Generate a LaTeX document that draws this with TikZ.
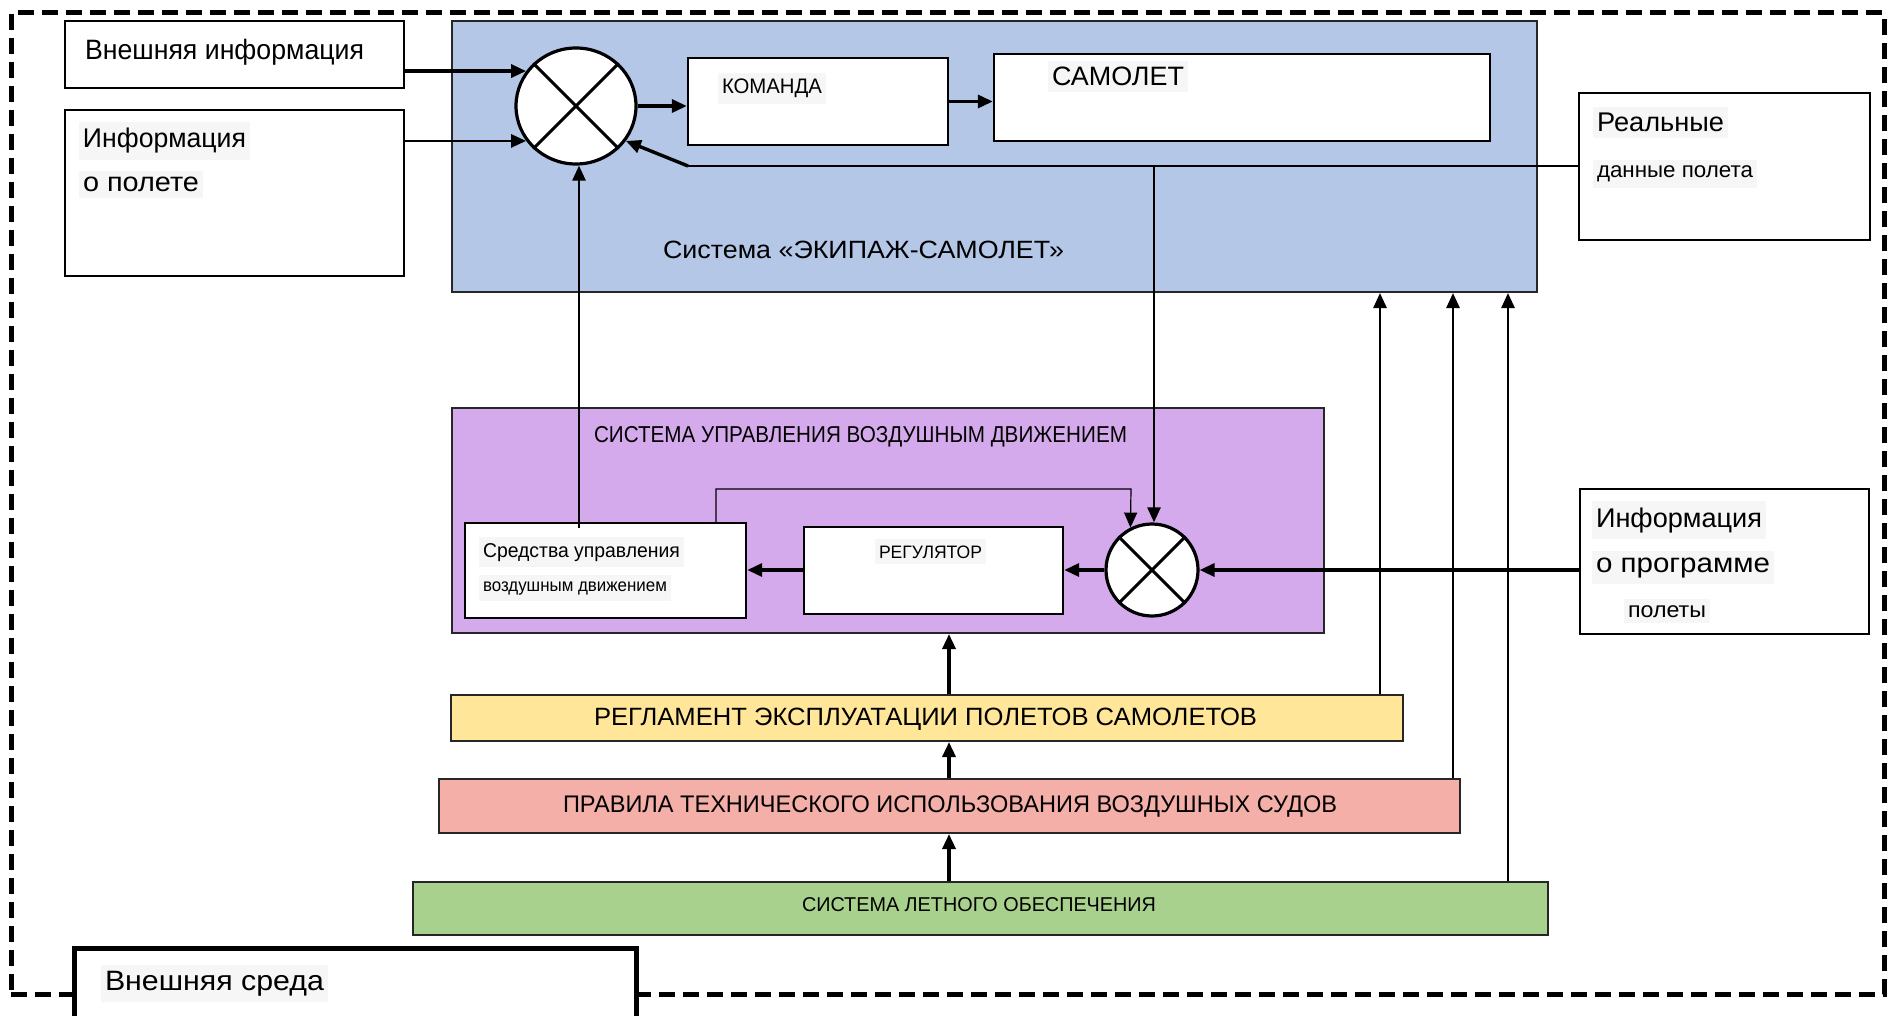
\documentclass[tikz,border=0pt]{standalone}
\usepackage{fontspec}
\setmainfont{Liberation Sans}
\usepackage{graphicx}
\usetikzlibrary{arrows.meta,shapes.geometric,fit}
\newdimen\pxu \pxu=0.5pt
\newcommand\tx[3]{\resizebox{#1\pxu}{\height}{\fontsize{#2pt}{#2pt}\selectfont #3}}
\definecolor{sysblue}{RGB}{180,199,231}
\definecolor{sysviolet}{RGB}{213,170,236}
\definecolor{regyellow}{RGB}{255,230,153}
\definecolor{rulered}{RGB}{244,176,168}
\definecolor{supgreen}{RGB}{169,209,142}
\definecolor{patch}{RGB}{246,246,246}
\begin{document}
\begin{tikzpicture}[x=0.5pt,y=-0.5pt,
  wbox/.style={draw=black, line width=1.2pt, inner sep=0pt, fill=white},
  cbox/.style={draw=black!85, line width=1pt, inner sep=0pt},
  sumnode/.style={ellipse, draw=black, line width=1.6pt, fill=white, inner sep=0pt},
  arr/.style={line width=1.7pt, -{Triangle[length=7.5pt,width=6.5pt]}},
  arrm/.style={line width=1.3pt, -{Triangle[length=7.5pt,width=6.5pt]}},
  thinline/.style={line width=0.6pt},
  lbl/.style={inner sep=0pt, outer sep=0pt, anchor=base west},
  lblp/.style={lbl, fill=patch, inner xsep=2pt, inner ysep=3pt}]
\useasboundingbox (0,0) rectangle (1889,1016);
\fill[white] (0,0) rectangle (1889,1016);

% outer environment frame
\node[draw=black, line width=2.5pt, dash pattern=on 8pt off 4pt, inner sep=0pt,
      fit={(11,13) (1884,994)}] (env) {};

% left input boxes
\node[wbox, fit={(65,21) (404,88)}] (extInfo) {};
\node[wbox, fit={(65,110) (404,276)}] (flightInfo) {};

% crew-aircraft system
\node[cbox, fill=sysblue, fit={(452,21) (1537,292)}] (crew) {};
\node[wbox, fit={(688,58) (948,145)}] (komanda) {};
\node[wbox, fit={(994,54) (1490,141)}] (samolet) {};
\node[sumnode, minimum width=120\pxu, minimum height=116\pxu] (c1) at (576,106) {};
\draw[line width=1.5pt] (c1.45) -- (c1.225) (c1.135) -- (c1.315);

% real flight data
\node[wbox, fit={(1579,93) (1870,240)}] (real) {};

% ATC system
\node[cbox, fill=sysviolet, fit={(452,408) (1324,633)}] (atc) {};
\node[wbox, fit={(465,523) (746,618)}] (sredstva) {};
\node[wbox, fit={(804,527) (1063,614)}] (regul) {};
\node[sumnode, minimum width=92\pxu, minimum height=92\pxu] (c2) at (1152,570) {};
\draw[line width=1.5pt] (c2.45) -- (c2.225) (c2.135) -- (c2.315);

% program information
\node[wbox, fit={(1580,489) (1869,634)}] (progInfo) {};

% regulation layers
\node[cbox, fill=regyellow, fit={(451,695) (1403,741)}] (regl) {};
\node[cbox, fill=rulered, fit={(439,779) (1460,833)}] (rules) {};
\node[cbox, fill=supgreen, fit={(413,882) (1548,935)}] (supp) {};

% external environment label box
\node[draw=black, line width=2.5pt, fill=white, inner sep=0pt, fit={(74,948) (636,1024)}] (envLbl) {};

% labels
\node[lbl] (tExt) at (85,60) {\tx{279}{14}{Внешняя информация}};
\node[lblp] (tInf1) at (79,148) {\tx{163}{13.5}{Информация}};
\node[lblp] (tInf2) at (79,192) {\tx{116}{13.5}{о полете}};
\node[lblp] (tKom) at (718,94) {\tx{100}{10.5}{КОМАНДА}};
\node[lblp] (tSam) at (1048,86) {\tx{132}{13.3}{САМОЛЕТ}};
\node[lblp] (tReal1) at (1593,132) {\tx{127}{13.5}{Реальные}};
\node[lblp] (tReal2) at (1593,178) {\tx{156}{11}{данные полета}};
\node[lbl] (tCrew) at (663,258) {\tx{401}{12.5}{Система «ЭКИПАЖ-САМОЛЕТ»}};
\node[lbl] (tAtc) at (594,442) {\tx{533}{11.5}{СИСТЕМА УПРАВЛЕНИЯ ВОЗДУШНЫМ ДВИЖЕНИЕМ}};
\node[lblp] (tSr1) at (479,557) {\tx{197}{10}{Средства управления}};
\node[lblp] (tSr2) at (479,591) {\tx{184}{9}{воздушным движением}};
\node[lblp] (tReg) at (875,558) {\tx{103}{9}{РЕГУЛЯТОР}};
\node[lblp] (tPr1) at (1592,527) {\tx{166}{13.5}{Информация}};
\node[lblp] (tPr2) at (1592,572) {\tx{174}{13.5}{о программе}};
\node[lblp] (tPr3) at (1624,617) {\tx{78}{11}{полеты}};
\node[lbl] (tRegl) at (594,725) {\tx{663}{12.5}{РЕГЛАМЕНТ ЭКСПЛУАТАЦИИ ПОЛЕТОВ САМОЛЕТОВ}};
\node[lbl] (tRules) at (563,812) {\tx{774}{12}{ПРАВИЛА ТЕХНИЧЕСКОГО ИСПОЛЬЗОВАНИЯ ВОЗДУШНЫХ СУДОВ}};
\node[lbl] (tSupp) at (802,911) {\tx{354}{10}{СИСТЕМА ЛЕТНОГО ОБЕСПЕЧЕНИЯ}};
\node[lblp] (tEnv) at (101,990) {\tx{219}{14}{Внешняя среда}};

% helper coordinates
\coordinate (fbL) at (688,166);
\coordinate (fbV) at (1154,166);
\coordinate (srUp) at (579,528);
\coordinate (fbA) at (716,489);
\coordinate (fbB) at (1131,489);
\coordinate (midX) at (949,0);
\coordinate (rA) at (1380,0);
\coordinate (rB) at (1453,0);
\coordinate (rC) at (1508,0);

% connectors, upper system
\draw[arr] (extInfo.east |- c1.145) -- (c1.145);
\draw[arrm] (flightInfo.east |- c1.215) -- (c1.215);
\draw[arr] (c1.east) -- (c1.east -| komanda.west);
\draw[arr] (komanda.east) -- (komanda.east -| samolet.west);
\draw[thinline] (fbL) -- (fbL -| real.west);
\draw[arr] (fbL) -- (c1.-35);
\draw[arrm] (fbV) -- (fbV |- c2.north);
\draw[arrm] (srUp) -- (srUp |- c1.south);

% connectors, ATC system
\draw[thinline, -{Triangle[length=7.5pt,width=6.5pt]}] (fbA |- sredstva.north) -- (fbA) -- (fbB) -- (c2.117);
\draw[arr] (c2.west) -- (c2.west -| regul.east);
\draw[arr] (regul.west |- c2.west) -- (c2.west -| sredstva.east);
\draw[arr] (progInfo.west |- c2.east) -- (c2.east);

% regulation layers
\draw[arr] (regl.north -| midX) -- (atc.south -| midX);
\draw[arr] (rules.north -| midX) -- (regl.south -| midX);
\draw[arr] (supp.north -| midX) -- (rules.south -| midX);
\draw[arrm] (regl.north -| rA) -- (crew.south -| rA);
\draw[arrm] (rules.north -| rB) -- (crew.south -| rB);
\draw[arrm] (supp.north -| rC) -- (crew.south -| rC);
\end{tikzpicture}
\end{document}
